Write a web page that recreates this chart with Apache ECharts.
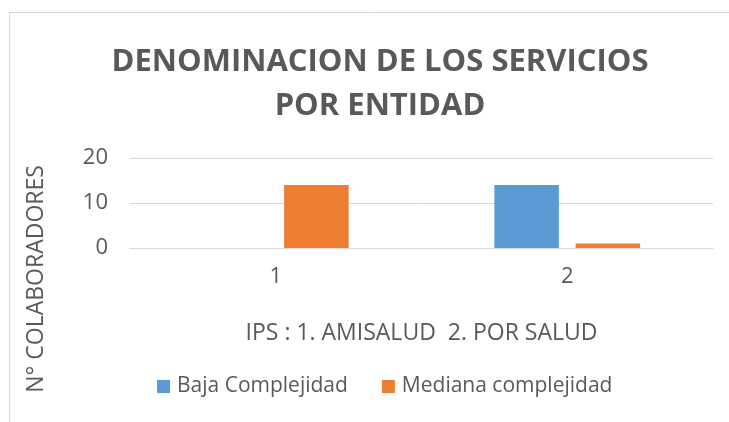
<!DOCTYPE html>
<html>
  <head>
    <meta charset="utf-8" />
    <title>Denominacion de los servicios</title>
    <script src="https://cdn.jsdelivr.net/npm/echarts@6/dist/echarts.min.js"></script>
    <style>
      html, body { margin: 0; padding: 0; background: #fff; }
      #main { width: 729px; height: 422px; }
    </style>
  </head>
  <body>
    <div id="main"></div>
    <script>
      // datos
      var categorias = ['1', '2'];
      var baja = [0, 14];      // Baja Complejidad
      var mediana = [14, 1];   // Mediana complejidad
      var yTicks = [0, 10, 20];

      var fuente = '"Open Sans", sans-serif';
      var gris = '#595959';

      var chart = echarts.init(document.getElementById('main'));
      var option = {
        textStyle: { fontFamily: fuente },
        // marco del grafico
        graphic: [{
          type: 'rect',
          shape: { x: 9.5, y: 12.5, width: 740, height: 430 },
          style: { fill: 'none', stroke: '#d9d9d9', lineWidth: 1 },
          silent: true
        }, {
          type: 'text',
          x: 36,
          y: 279,
          rotation: Math.PI / 2,
          style: {
            text: 'N° COLABORADORES',
            fill: gris,
            font: '23px ' + fuente,
            align: 'center',
            verticalAlign: 'middle'
          },
          silent: true
        }],
        title: {
          text: 'DENOMINACION DE LOS SERVICIOS\nPOR ENTIDAD',
          left: 375,
          textAlign: 'center',
          top: 35,
          textStyle: {
            color: gris,
            fontSize: 31,
            fontWeight: 'bold',
            lineHeight: 44,
            fontFamily: fuente
          }
        },
        legend: {
          bottom: 20,
          left: 152,
          itemWidth: 13,
          itemHeight: 13,
          itemGap: 34,
          icon: 'rect',
          textStyle: { color: gris, fontSize: 21, fontFamily: fuente, padding: [0, 0, 0, 2] }
        },
        grid: { left: 130, right: 16, top: 158, bottom: 174 },
        xAxis: {
          type: 'category',
          data: categorias,
          name: 'IPS : 1. AMISALUD  2. POR SALUD',
          nameLocation: 'middle',
          nameGap: 74,
          nameTextStyle: { color: gris, fontSize: 23 },
          axisLine: { lineStyle: { color: '#d9d9d9', width: 1 } },
          axisTick: { show: false },
          axisLabel: { color: gris, fontSize: 22, margin: 18 }
        },
        yAxis: {
          type: 'value',
          min: yTicks[0],
          max: yTicks[yTicks.length - 1],
          interval: 10,
          axisLine: { show: false },
          axisTick: { show: false },
          axisLabel: { color: gris, fontSize: 22, margin: 22 },
          splitLine: { lineStyle: { color: '#d9d9d9', width: 1 } }
        },
        series: [{
          name: 'Baja Complejidad',
          type: 'bar',
          data: baja,
          barGap: '26%',
          barCategoryGap: '50%',
          itemStyle: { color: '#5b9bd5' }
        }, {
          name: 'Mediana complejidad',
          type: 'bar',
          data: mediana,
          itemStyle: { color: '#ed7d31' }
        }]
      };
      chart.setOption(option);
    </script>
  </body>
</html>
